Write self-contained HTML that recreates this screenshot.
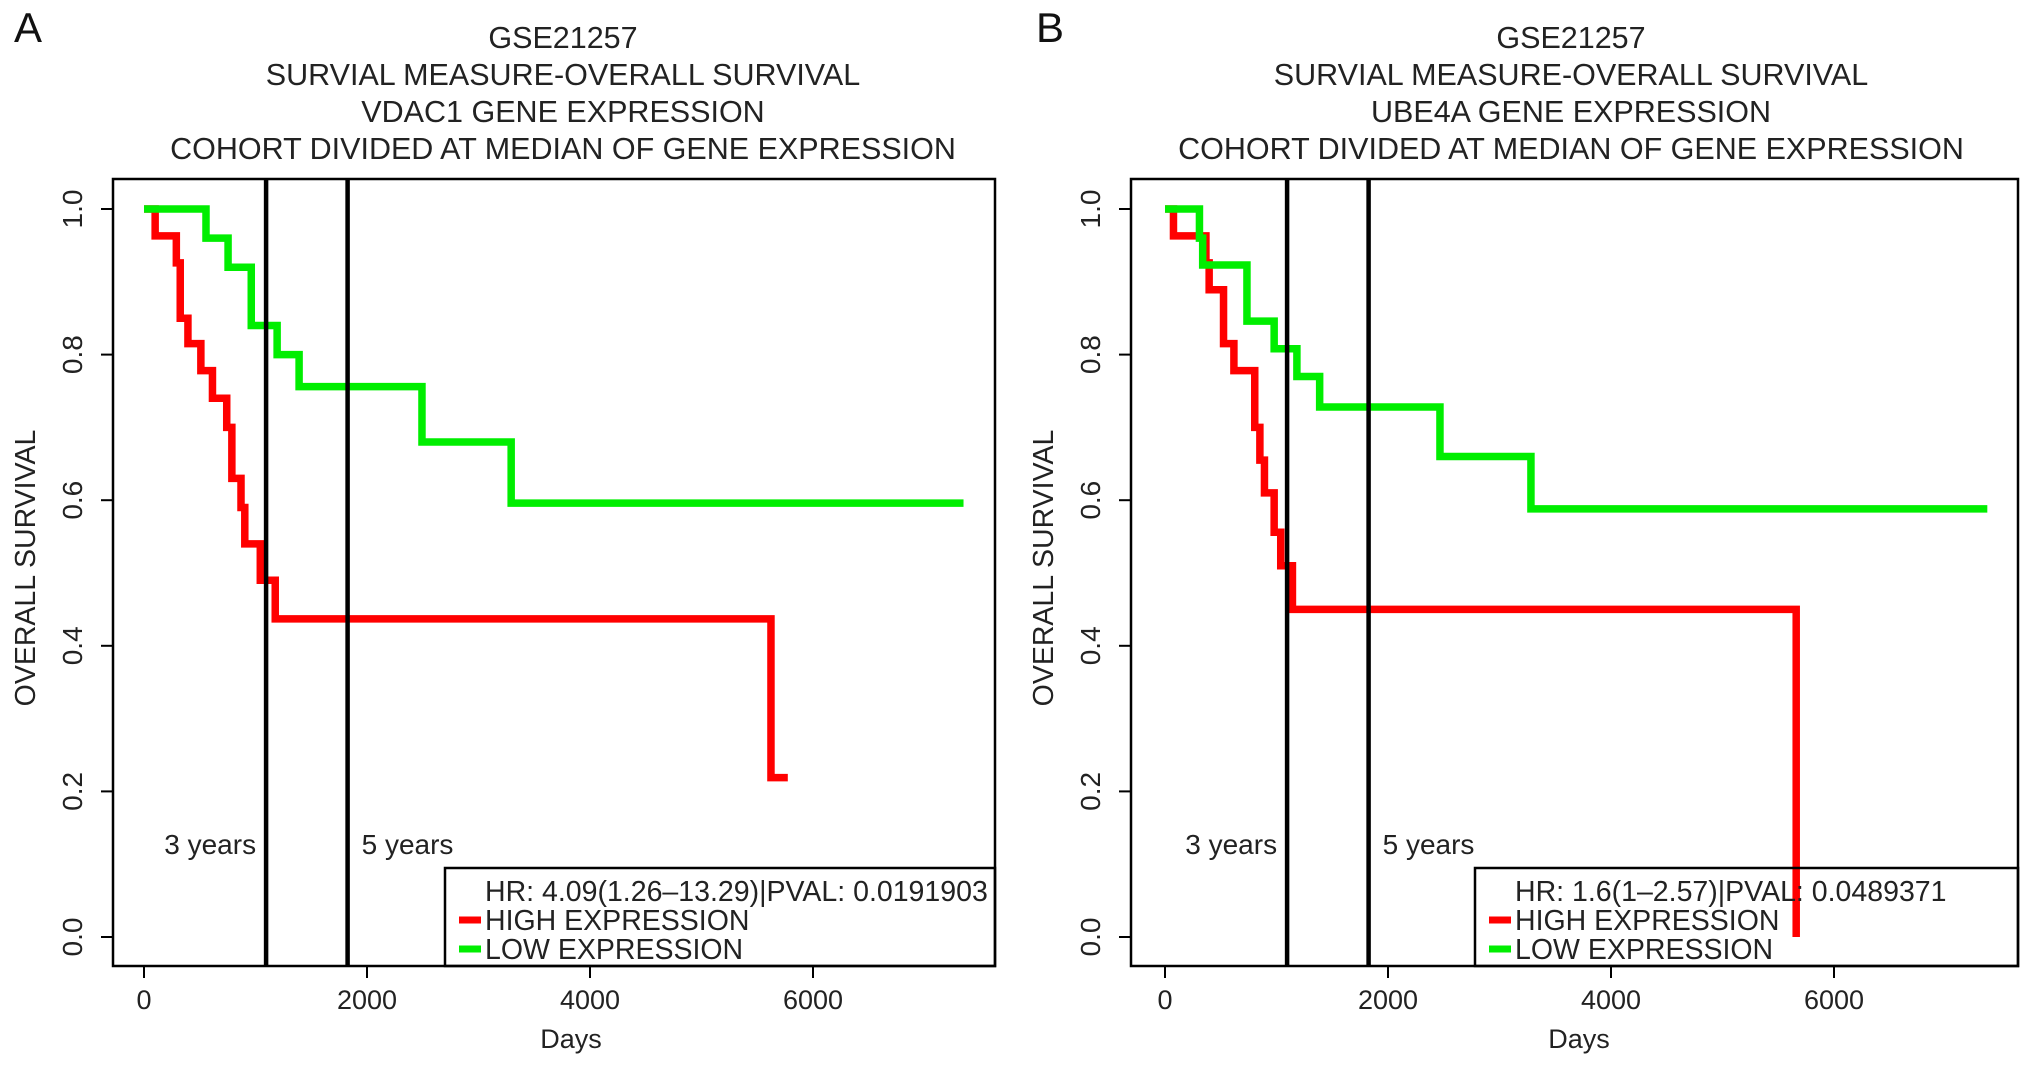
<!DOCTYPE html>
<html><head><meta charset="utf-8"><style>
html,body{margin:0;padding:0;background:#fff;}
svg{display:block;font-family:"Liberation Sans",Arial,sans-serif;}
</style></head><body>
<svg id="fig" width="2032" height="1067" viewBox="0 0 2032 1067"></svg>
<script>
const tickDays=[0,2000,4000,6000];
const tickSurv=[0,0.2,0.4,0.6,0.8,1.0];
const tickSurvLabels=["0.0","0.2","0.4","0.6","0.8","1.0"];
const markerDays=[1095,1826];
const markerLabels=["3 years","5 years"];
// Panel A
const aGreenDays=[0,556,754,962,1194,1391,2493,3293,7350];
const aGreenSurv=[1.0,0.96,0.92,0.84,0.80,0.756,0.68,0.596,0.596];
const aRedDays=[0,100,290,325,394,510,614,742,788,870,904,1043,1177,5623,5774];
const aRedSurv=[1.0,0.963,0.926,0.85,0.815,0.778,0.74,0.70,0.63,0.59,0.54,0.49,0.437,0.219,0.219];
// Panel B
const bGreenDays=[0,309,338,735,979,1183,1387,2466,3282,7375];
const bGreenSurv=[1.0,0.96,0.923,0.846,0.808,0.77,0.728,0.66,0.588,0.588];
const bRedDays=[0,76,367,396,525,618,805,851,892,979,1038,1143,5661,5661];
const bRedSurv=[1.0,0.963,0.926,0.889,0.815,0.778,0.70,0.655,0.61,0.556,0.51,0.45,0.0,0.0];

const NS="http://www.w3.org/2000/svg";
const svg=document.getElementById('fig');
function mk(tag,attrs,parent,text){const e=document.createElementNS(NS,tag);for(const k in attrs)e.setAttribute(k,attrs[k]);if(text!==undefined)e.textContent=text;(parent||svg).appendChild(e);return e;}

function panel(p){
  const g=mk('g',{});
  
  
  const x=d=>p.x0+d*p.kx;
  const y=s=>937-s*728;
  const L=mk('text',{x:p.letterX,y:42,'font-size':42,fill:'#111'},g,p.letter);
  
  
  p.title.forEach((t,i)=>{
    const e=mk('text',{x:p.cx,y:48+i*37,'font-size':30.5,'text-anchor':'middle',fill:'#222'},g,t);
    
    
  });
  const box=mk('rect',{x:p.bl,y:179,width:p.br-p.bl,height:787,fill:'none',stroke:'#000','stroke-width':2.5},g);
  
  
  tickDays.forEach(d=>{
    const l=mk('line',{x1:x(d),x2:x(d),y1:966,y2:978,stroke:'#000','stroke-width':2},g);
    
    
    const t=mk('text',{x:x(d),y:1009,'font-size':27,'text-anchor':'middle',fill:'#222'},g,String(d));
    
    
  });
  const xl=mk('text',{x:p.cx+8,y:1048,'font-size':27,'text-anchor':'middle',fill:'#222'},g,'Days');
  
  
  tickSurv.forEach((s,i)=>{
    const l=mk('line',{x1:p.bl-12,x2:p.bl,y1:y(s),y2:y(s),stroke:'#000','stroke-width':2},g);
    
    
    const t=mk('text',{x:0,y:0,'font-size':28,'text-anchor':'middle',fill:'#222',transform:`translate(${p.bl-31},${y(s)}) rotate(-90)`},g,tickSurvLabels[i]);
    
    
  });
  const yl=mk('text',{x:0,y:0,'font-size':28.5,'text-anchor':'middle',fill:'#222',transform:`translate(${p.bl-78},${y(0.5)-5}) rotate(-90)`},g,'OVERALL SURVIVAL');
  
  
  function step(days,surv,color,name){
    let d=`M${x(days[0])},${y(surv[0])}`;
    for(let i=1;i<days.length;i++){d+=` H${x(days[i])} V${y(surv[i])}`;}
    const e=mk('path',{d:d,fill:'none',stroke:color,'stroke-width':7.5,'stroke-linejoin':'miter'},g);
    
    
  }
  step(p.rd,p.rs,'#ff0000','high-expression-curve');
  step(p.gd,p.gs,'#00ee00','low-expression-curve');
  markerDays.forEach((d,i)=>{
    const l=mk('line',{x1:x(d),x2:x(d),y1:179,y2:966,stroke:'#000','stroke-width':4.5},g);
    
    
    const t=mk('text',{x:x(d)+(i==0?-10:14),y:854,'font-size':28,'text-anchor':i==0?'end':'start',fill:'#222'},g,markerLabels[i]);
    
    
  });
  const lg=mk('g',{},g);
  
  
  mk('rect',{x:p.lx,y:868,width:p.br-p.lx,height:98,fill:'none',stroke:'#000','stroke-width':2.5},lg);
  const hr=mk('text',{x:p.lx+40,y:901,'font-size':28.5,fill:'#222'},lg,p.hr);
  
  
  [['#ff0000','HIGH EXPRESSION',930],['#00ee00','LOW EXPRESSION',959]].forEach(([c,t,yy])=>{
    const l=mk('line',{x1:p.lx+14,x2:p.lx+36,y1:yy-10,y2:yy-10,stroke:c,'stroke-width':7},lg);
    
    
    const e=mk('text',{x:p.lx+40,y:yy,'font-size':28.5,fill:'#222'},lg,t);
    
    
  });
}
panel({id:'a',letter:'A',letterX:14,cx:563,bl:113,br:995,x0:144,kx:0.1115,lx:445,
  title:['GSE21257','SURVIAL MEASURE-OVERALL SURVIVAL','VDAC1 GENE EXPRESSION','COHORT DIVIDED AT MEDIAN OF GENE EXPRESSION'],
  hr:'HR: 4.09(1.26\u201313.29)|PVAL: 0.0191903',gd:aGreenDays,gs:aGreenSurv,rd:aRedDays,rs:aRedSurv});
panel({id:'b',letter:'B',letterX:1036,cx:1571,bl:1131,br:2018,x0:1165,kx:0.1115,lx:1475,
  title:['GSE21257','SURVIAL MEASURE-OVERALL SURVIVAL','UBE4A GENE EXPRESSION','COHORT DIVIDED AT MEDIAN OF GENE EXPRESSION'],
  hr:'HR: 1.6(1\u20132.57)|PVAL: 0.0489371',gd:bGreenDays,gs:bGreenSurv,rd:bRedDays,rs:bRedSurv});
</script>
</body></html>
